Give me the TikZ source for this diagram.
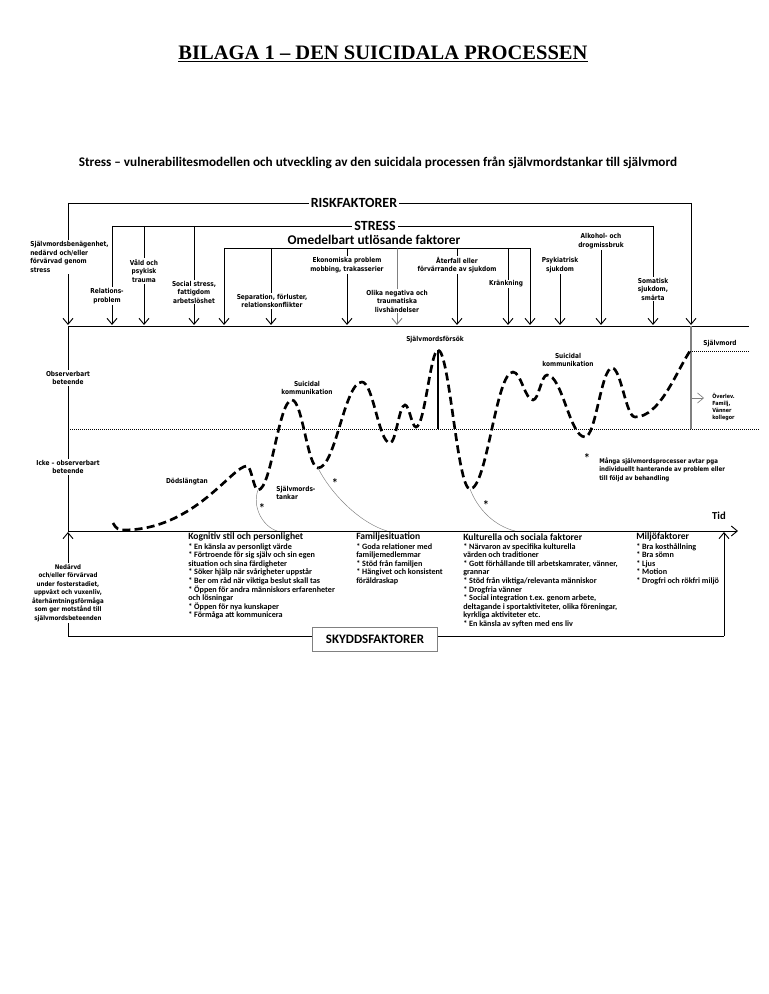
\documentclass[tikz,border=0pt]{standalone}
\usepackage{fontspec}
\setmainfont{Carlito}
\newfontfamily\lblfont[FakeStretch=0.86]{DejaVu Sans}
\newfontfamily\ttlfont{Liberation Serif}
\usetikzlibrary{arrows.meta,calc}
\tikzset{
  ln/.style={line width=0.7pt},
  barb/.style={-{Straight Barb[length=4.5pt,width=7.5pt]}},
  lbl/.style={font=\lblfont\bfseries\fontsize{5.1}{6.4}\selectfont,align=center,fill=white,inner sep=0.8pt},
  hdr/.style={font=\bfseries\fontsize{7.2}{8}\selectfont,anchor=west,inner sep=0},
  itm/.style={font=\bfseries\fontsize{6.1}{6.45}\selectfont,anchor=north west,align=left,inner sep=0},
  captxt/.style={font=\bfseries\fontsize{10.5}{12}\selectfont,fill=white,inner sep=1.5pt},
  wave/.style={line width=2pt,dash pattern=on 6pt off 3.2pt},
  fadearc/.style={gray,line width=0.35pt},
  star/.style={font=\lblfont\bfseries\fontsize{7}{8}\selectfont,inner sep=0}
}
\begin{document}
\begin{tikzpicture}[x=0.75pt,y=-0.75pt]
\useasboundingbox (0,0) rectangle (768,994);
\node (title) at (383,54) {\ttlfont\bfseries\fontsize{15.4}{18}\selectfont\underline{BILAGA 1 – DEN SUICIDALA PROCESSEN}};
\node (subtitle) at (378,163) {\bfseries\fontsize{9.9}{11}\selectfont Stress – vulnerabilitesmodellen och utveckling av den suicidala processen från självmordstankar till självmord};
% riskfaktorer
\coordinate (bs) at (0,325);
\coordinate (r1) at (68,203); \coordinate (r2) at (691,203);
\draw[ln] (r1) -- (r2);
\draw[ln,barb] (r1) -- (r1 |- bs); \draw[ln,barb] (r2) -- (r2 |- bs);
\coordinate (s1) at (112,226); \coordinate (s2) at (653,226);
\draw[ln] (s1) -- (s2);
\foreach \x [count=\i] in {112,144,194,653} {\coordinate (sv\i) at (\x,226); \draw[ln,barb] (sv\i) -- (sv\i |- bs);}
\coordinate (o1) at (224,248); \coordinate (o2) at (530,248);
\draw[ln] (o1) -- (o2);
\foreach \x [count=\i] in {224,271,347,457,508,530} {\coordinate (ov\i) at (\x,248); \draw[ln,barb] (ov\i) -- (ov\i |- bs);}
\coordinate (ov7) at (397,248); \draw[ln,gray,barb] (ov7) -- (ov7 |- bs);
\coordinate (b1) at (68,326); \coordinate (b2) at (749,326);
\draw[ln] (b1) -- (b2);
\node[captxt] (risk) at (354,203) {RISKFAKTORER};
\node[captxt] (stress) at (375,226) {STRESS};
\node[font=\bfseries\fontsize{10}{11}\selectfont,inner sep=0] (omed) at (374,240) {Omedelbart utlösande faktorer};
\node[lbl,align=left,anchor=west] (benag) at (29,257) {Självmordsbenägenhet,\\nedärvd och/eller\\förvärvad genom\\stress};
\node[lbl] (relat) at (107,296) {Relations-\\problem};
\node[lbl] (vald) at (144,271) {Våld och\\psykisk\\trauma};
\node[lbl] (social) at (194,292) {Social stress,\\fattigdom\\arbetslöshet};
\node[lbl] (separ) at (272,301) {Separation, förluster,\\relationskonflikter};
\node[lbl] (ekon) at (347,265) {Ekonomiska problem\\mobbing, trakasserier};
\node[lbl] (olika) at (397,301) {Olika negativa och\\traumatiska\\livshändelser};
\node[lbl] (aterf) at (457,265) {Återfall eller\\förvärrande av sjukdom};
\node[lbl] (krank) at (506,284) {Kränkning};
\node[lbl] (psyk) at (560,265) {Psykiatrisk\\sjukdom};
\node[lbl] (alko) at (601,241) {Alkohol- och\\drogmissbruk};
\node[lbl] (somat) at (653,289) {Somatisk\\sjukdom,\\smärta};
\draw[ln,barb] (psyk.south) -- (psyk.south |- bs);
\draw[ln,barb] (alko.south) -- (alko.south |- bs);
% tidsaxel
\coordinate (t0) at (68,531); \coordinate (t1) at (738,531);
\coordinate (dl0) at (68,429); \coordinate (dl1) at (760,429);
\draw[ln] (b1) -- (t0);
\draw[ln,barb] (t0) -- (t1);
\draw[densely dotted,line width=0.5pt] (dl0) -- (dl1);
\draw[gray,line width=0.8pt] (r2 |- b1) -- (r2 |- dl0);
\node[font=\bfseries\fontsize{8}{9}\selectfont] (tid) at (719,516) {Tid};
\node[lbl] (obs) at (68,378) {Observerbart\\beteende};
\node[lbl] (icke) at (68,467) {Icke – observerbart\\beteende};
% kurvan
\coordinate (sf) at (438,350);
\draw[line width=1pt] (sf) -- (sf |- dl0);
\draw[wave] (113,523) .. controls (116,529) and (119,530) .. (125,530)
  .. controls (195,529) and (232,466) .. (247,466)
  .. controls (251.4,466) and (253.6,490) .. (258,490)
  .. controls (271.6,490) and (278.4,400) .. (292,400)
  .. controls (302.4,400) and (307.6,468) .. (318,468)
  .. controls (335.6,468) and (344.4,382) .. (362,382)
  .. controls (373.2,382) and (378.8,443) .. (390,443)
  .. controls (396,443) and (399,405) .. (405,405)
  .. controls (409.4,405) and (411.6,427) .. (416,427)
  .. controls (424.8,427) and (430.5,350) .. (sf)
  .. controls (449.5,350) and (457.2,489) .. (470,489)
  .. controls (487.2,489) and (495.8,372) .. (513,372)
  .. controls (521,372) and (525,400) .. (533,400)
  .. controls (538.6,400) and (541.4,375) .. (547,375)
  .. controls (562.2,375) and (569.8,437) .. (585,437)
  .. controls (595.8,437) and (601.2,368) .. (612,368)
  .. controls (621.2,368) and (625.8,417) .. (635,417)
  .. controls (660,417) and (676,372) .. (690,351);
\draw[fadearc] (258,490) .. controls (252,506) and (262,526) .. (277,531);
\draw[fadearc] (318,468) .. controls (330,492) and (358,522) .. (387,531);
\draw[fadearc] (470,489) .. controls (478,510) and (495,526) .. (515,531);
\node[star] (st1) at (262,507) {*};
\node[star] (st2) at (335,482) {*};
\node[star] (st3) at (486,504) {*};
\node[star] (st4) at (587,457) {*};
\node[lbl,fill=none] (dod) at (187,482) {Dödslängtan};
\node[lbl,fill=none,align=left,anchor=west] (tank) at (275,493) {Självmords-\\tankar};
\node[lbl,fill=none] (kom1) at (307,388) {Suicidal\\kommunikation};
\node[lbl,fill=none] (kom2) at (568,360) {Suicidal\\kommunikation};
\node[lbl,fill=none] (forsok) at (435,340) {Självmordsförsök};
\coordinate (sm0) at (688,351); \coordinate (sm1) at (750,351);
\draw[densely dotted,line width=0.5pt] (sm0) -- (sm1);
\node[lbl,fill=none] (smord) at (720,344) {Självmord};
\coordinate (sv0) at (691,398); \coordinate (svend) at (704,398);
\draw[gray,line width=0.5pt,barb] (sv0) -- (svend);
\node[lbl,fill=none,align=left,anchor=west,font=\lblfont\bfseries\fontsize{4.2}{5.4}\selectfont] (overlev) at (711,407) {Överlev.\\Familj,\\Vänner\\kollegor};
\node[lbl,fill=none,align=left,anchor=north west,font=\lblfont\bfseries\fontsize{4.8}{6.4}\selectfont] (manga) at (598,456) {Många självmordsprocesser avtar pga\\individuellt hanterande av problem eller\\till följd av behandling};
% skyddsfaktorer
\coordinate (p0) at (68,532); \coordinate (p1) at (68,636);
\coordinate (p2) at (724,636); \coordinate (p3) at (724,532);
\draw[ln,barb] (p1) -- (p0);
\draw[ln] (p1) -- (p2);
\draw[ln,barb] (p2) -- (p3);
\node[lbl,font=\lblfont\bfseries\fontsize{4.8}{6.4}\selectfont] (nedarvd) at (68,593) {Nedärvd\\och/eller förvärvad\\under fosterstadiet,\\uppväxt och vuxenliv,\\återhämtningsförmåga\\som ger motstånd till\\självmordsbeteenden};
\node[captxt,draw=gray,line width=0.6pt,font=\bfseries\fontsize{9.7}{10}\selectfont,minimum width=94pt,minimum height=18pt] (skydd) at (375,639) {SKYDDSFAKTORER};
\node[hdr] (kogn) at (188,537) {Kognitiv stil och personlighet};
\node[itm] (kognl) at (188,543) {* En känsla av personligt värde\\* Förtroende för sig själv och sin egen\\situation och sina färdigheter\\* Söker hjälp när svårigheter uppstår\\* Ber om råd när viktiga beslut skall tas\\* Öppen för andra människors erfarenheter\\och lösningar\\* Öppen för nya kunskaper\\* Förmåga att kommunicera};
\node[hdr] (fam) at (356,537) {Familjesituation};
\node[itm] (faml) at (356,543) {* Goda relationer med\\familjemedlemmar\\* Stöd från familjen\\* Hängivet och konsistent\\föräldraskap};
\node[hdr] (kult) at (463,537) {Kulturella och sociala faktorer};
\node[itm] (kultl) at (463,543) {* Närvaron av specifika kulturella\\värden och traditioner\\* Gott förhållande till arbetskamrater, vänner,\\grannar\\* Stöd från viktiga/relevanta människor\\* Drogfria vänner\\* Social integration t.ex. genom arbete,\\deltagande i sportaktiviteter, olika föreningar,\\kyrkliga aktiviteter etc.\\* En känsla av syften med ens liv};
\node[hdr] (milj) at (636,537) {Miljöfaktorer};
\node[itm] (miljl) at (636,543) {* Bra kosthållning\\* Bra sömn\\* Ljus\\* Motion\\* Drogfri och rökfri miljö};
\end{tikzpicture}
\end{document}
